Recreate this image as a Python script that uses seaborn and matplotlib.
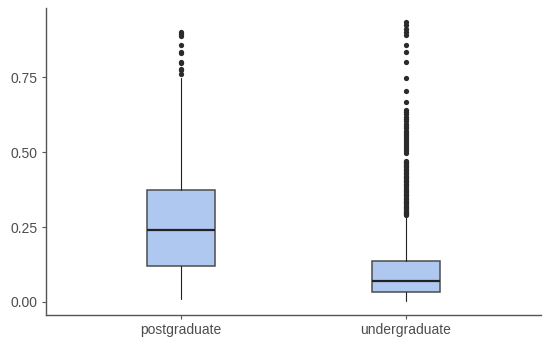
import pandas as pd
import seaborn as sns
from matplotlib import pyplot as plt

# Values
levels = ['postgraduate', 'undergraduate']
whisker_low = [0.011, 0.003]
q1 = [0.119, 0.034]
median = [0.239, 0.070]
q3 = [0.375, 0.136]
whisker_high = [0.749, 0.284]

post_outliers = [0.760, 0.774, 0.779, 0.798, 0.801, 0.831, 0.835, 0.857,
                 0.888, 0.896, 0.901]
under_outliers = [0.289, 0.293, 0.297, 0.301, 0.305, 0.309, 0.313, 0.317,
                  0.321, 0.326, 0.330, 0.334, 0.338, 0.343, 0.347, 0.352,
                  0.356, 0.361, 0.366, 0.370, 0.375, 0.381, 0.386, 0.390,
                  0.395, 0.400, 0.404, 0.408, 0.413, 0.418, 0.422, 0.427,
                  0.431, 0.436, 0.440, 0.445, 0.449, 0.454, 0.458, 0.463,
                  0.467, 0.471, 0.497, 0.503, 0.509, 0.518, 0.524, 0.531,
                  0.538, 0.545, 0.552, 0.558, 0.565, 0.572, 0.580, 0.588,
                  0.595, 0.603, 0.612, 0.619, 0.626, 0.633, 0.640,
                  0.668, 0.704, 0.749, 0.801, 0.835, 0.857, 0.890, 0.901,
                  0.912, 0.924, 0.935]

outliers = pd.DataFrame({
    'level': [levels[0]] * len(post_outliers) + [levels[1]] * len(under_outliers),
    'value': post_outliers + under_outliers,
})

sns.set_theme(style="ticks")
plt.rcParams['font.family'] = ['Liberation Sans', 'DejaVu Sans']

fig = plt.figure(figsize=(5.5, 3.47), dpi=100)
ax = fig.add_axes([0.0836, 0.0922, 0.9, 0.885])

stats = []
for i, lv in enumerate(levels):
    stats.append({'label': lv, 'whislo': whisker_low[i], 'q1': q1[i], 'med': median[i],
                  'q3': q3[i], 'whishi': whisker_high[i], 'fliers': []})

ax.bxp(stats, positions=[0, 1], widths=0.3, patch_artist=True, showfliers=False,
       showcaps=False,
       boxprops=dict(facecolor='#aec8f0', edgecolor='#4d4d4d', linewidth=1.1),
       medianprops=dict(color='#222222', linewidth=1.6),
       whiskerprops=dict(color='#222222', linewidth=0.8))

# outlying points drawn by seaborn
sns.stripplot(data=outliers, x='level', y='value', order=levels, jitter=False,
              color='#2b2b2b', size=3.8, linewidth=0, ax=ax)

ax.set_xlim(-0.6, 1.6)
ax.set_ylim(-0.044, 0.982)
ax.set_yticks([0.0, 0.25, 0.5, 0.75])
ax.set_yticklabels(['0.00', '0.25', '0.50', '0.75'])
ax.set_xticks([0, 1])
ax.set_xticklabels(levels)
ax.set_xlabel('')
ax.set_ylabel('')

sns.despine(ax=ax)
for side in ['left', 'bottom']:
    ax.spines[side].set_color('#555555')
    ax.spines[side].set_linewidth(1.0)
ax.tick_params(axis='both', colors='#555555', labelcolor='#4d4d4d', labelsize=10,
               length=3, width=0.8, pad=3)

plt.savefig('out.png', dpi=100)
